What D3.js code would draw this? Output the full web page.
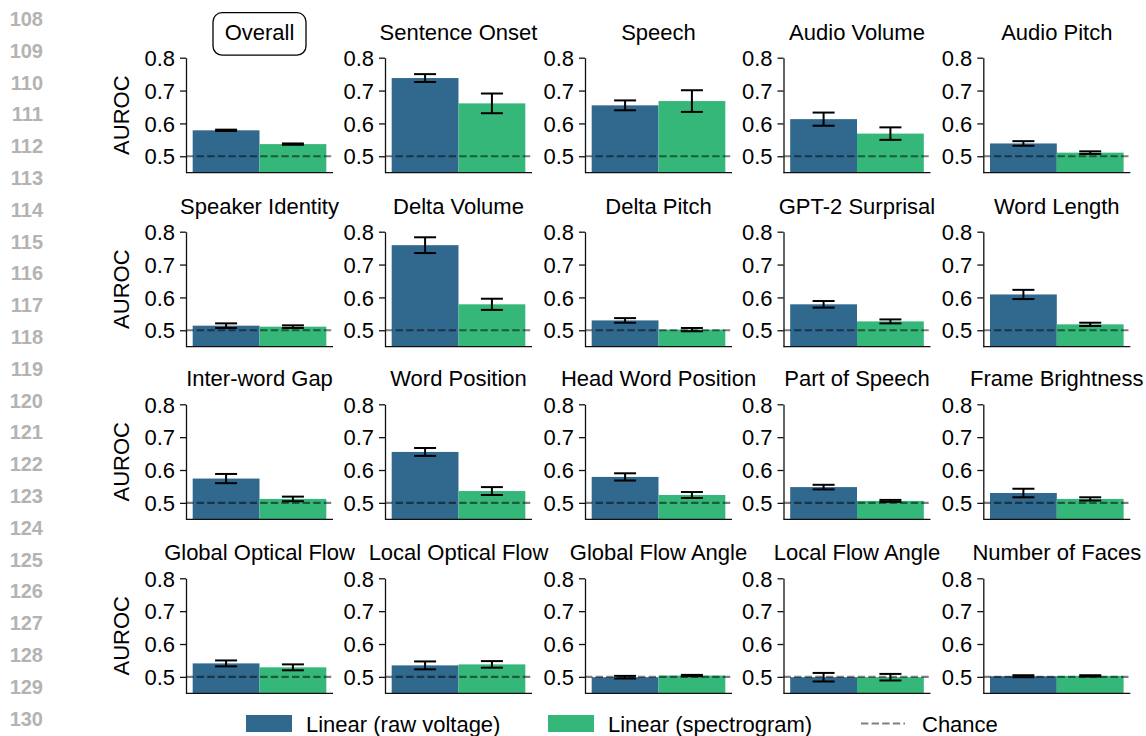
<!DOCTYPE html>
<html>
<head>
<meta charset="utf-8">
<script src="https://cdn.jsdelivr.net/npm/d3@7"></script>
<style>
  html, body { margin: 0; padding: 0; background: #fff; }
  svg { display: block; font-family: "Liberation Sans", Arial, Helvetica, sans-serif; }
</style>
</head>
<body>
<svg id="chart" width="1146" height="736"></svg>
<script>
// ---- data ----
const features = [
  "Overall", "Sentence Onset", "Speech", "Audio Volume", "Audio Pitch",
  "Speaker Identity", "Delta Volume", "Delta Pitch", "GPT-2 Surprisal", "Word Length",
  "Inter-word Gap", "Word Position", "Head Word Position", "Part of Speech", "Frame Brightness",
  "Global Optical Flow", "Local Optical Flow", "Global Flow Angle", "Local Flow Angle", "Number of Faces"
];
const seriesNames = ["Linear (raw voltage)", "Linear (spectrogram)"];
const rawMean = [0.579, 0.738, 0.655, 0.613, 0.539,
                 0.514, 0.759, 0.530, 0.579, 0.609,
                 0.574, 0.655, 0.579, 0.548, 0.530,
                 0.541, 0.535, 0.499, 0.499, 0.502];
const rawErr  = [0.002, 0.012, 0.015, 0.020, 0.007,
                 0.007, 0.024, 0.007, 0.010, 0.014,
                 0.014, 0.012, 0.011, 0.007, 0.013,
                 0.009, 0.012, 0.004, 0.013, 0.003];
const specMean = [0.537, 0.661, 0.668, 0.569, 0.511,
                  0.511, 0.579, 0.502, 0.527, 0.518,
                  0.512, 0.536, 0.524, 0.506, 0.512,
                  0.529, 0.538, 0.504, 0.499, 0.503];
const specErr  = [0.002, 0.030, 0.033, 0.019, 0.004,
                  0.004, 0.017, 0.005, 0.006, 0.005,
                  0.007, 0.012, 0.009, 0.003, 0.005,
                  0.009, 0.010, 0.002, 0.010, 0.002];
const yTicks = [0.5, 0.6, 0.7, 0.8];
const yDomain = [0.45, 0.8];
const chance = 0.5;
const lineNumbers = d3.range(108, 131);

// ---- style / layout ----
const colors = ["#31688e", "#35b779"];
const FS = 22;
const nCols = 5;
const colX = [186, 385, 585, 783.5, 983.3];
const rowTop = [57.7, 231.7, 404.3, 578.3];
const pw = 147, ph = 115;

const svg = d3.select("#chart");

// line numbers
svg.append("g").selectAll("text").data(lineNumbers).join("text")
  .attr("x", 43)
  .attr("y", (d, i) => 26 + i * 31.8)
  .attr("text-anchor", "end")
  .attr("font-weight", "bold")
  .attr("font-size", 20)
  .attr("fill", "#b3b3b3")
  .text(d => d);

features.forEach((name, idx) => {
  const r = Math.floor(idx / nCols), c = idx % nCols;
  const x0 = colX[c], y0 = rowTop[r];
  const g = svg.append("g");

  const x = d3.scaleBand().domain([0, 1]).range([x0, x0 + pw]).paddingInner(0).paddingOuter(0.1);
  const y = d3.scaleLinear().domain(yDomain).range([y0 + ph, y0]);

  const means = [rawMean[idx], specMean[idx]];
  const errs = [rawErr[idx], specErr[idx]];

  // bars
  g.selectAll("rect.bar").data([0, 1]).join("rect")
    .attr("class", "bar")
    .attr("x", d => x(d))
    .attr("width", x.bandwidth())
    .attr("y", d => y(means[d]))
    .attr("height", d => y(yDomain[0]) - y(means[d]))
    .attr("fill", d => colors[d]);

  // chance line
  g.append("line")
    .attr("x1", x0).attr("x2", x0 + pw)
    .attr("y1", y(chance)).attr("y2", y(chance))
    .attr("stroke", "#000").attr("stroke-opacity", 0.5)
    .attr("stroke-width", 2.2)
    .attr("stroke-dasharray", "7.4,3.2");

  // error bars
  const cap = 11;
  [0, 1].forEach(d => {
    const cx = x(d) + x.bandwidth() / 2;
    const lo = y(means[d] - errs[d]), hi = y(means[d] + errs[d]);
    const eg = g.append("g").attr("stroke", "#000").attr("stroke-width", 2).attr("fill", "none");
    eg.append("line").attr("x1", cx).attr("x2", cx).attr("y1", lo).attr("y2", hi);
    eg.append("line").attr("x1", cx - cap).attr("x2", cx + cap).attr("y1", lo).attr("y2", lo);
    eg.append("line").attr("x1", cx - cap).attr("x2", cx + cap).attr("y1", hi).attr("y2", hi);
  });

  // y axis
  const ax = g.append("g")
    .attr("transform", `translate(${x0},0)`)
    .call(d3.axisLeft(y).tickValues(yTicks).tickFormat(d3.format(".1f")).tickSize(6).tickPadding(5).tickSizeOuter(0));
  ax.select(".domain").attr("stroke", "#111").attr("stroke-width", 1.3);
  ax.selectAll(".tick line").attr("stroke", "#111").attr("stroke-width", 1.3);
  ax.selectAll(".tick text")
    .attr("font-size", FS)
    .attr("font-family", "Liberation Sans, Arial, sans-serif")
    .attr("fill", "#000")
    .attr("dy", "0.35em");

  // bottom spine
  g.append("line")
    .attr("x1", x0).attr("x2", x0 + pw)
    .attr("y1", y0 + ph).attr("y2", y0 + ph)
    .attr("stroke", "#111").attr("stroke-width", 1.3);

  // title
  const cx = x0 + pw / 2;
  if (idx === 0) {
    g.append("rect")
      .attr("x", cx - 46.5).attr("y", y0 - 45)
      .attr("width", 93).attr("height", 42.5)
      .attr("rx", 9).attr("ry", 9)
      .attr("fill", "#fff").attr("stroke", "#000").attr("stroke-width", 1.3);
  }
  g.append("text")
    .attr("x", cx)
    .attr("y", y0 - 18)
    .attr("text-anchor", "middle")
    .attr("font-size", FS)
    .attr("fill", "#000")
    .text(name);

  // y label
  if (c === 0) {
    g.append("text")
      .attr("transform", `translate(${x0 - 57},${y0 + ph / 2}) rotate(-90)`)
      .attr("text-anchor", "middle")
      .attr("font-size", FS)
      .attr("fill", "#000")
      .text("AUROC");
  }
});

// legend
const lg = svg.append("g");
const legX = [246, 548];
seriesNames.forEach((s, i) => {
  lg.append("rect").attr("x", legX[i]).attr("y", 715).attr("width", 46).attr("height", 17).attr("fill", colors[i]);
  lg.append("text").attr("x", legX[i] + 60).attr("y", 731.5).attr("font-size", FS).attr("fill", "#000").text(s);
});
lg.append("line")
  .attr("x1", 861).attr("x2", 905).attr("y1", 723.5).attr("y2", 723.5)
  .attr("stroke", "#000").attr("stroke-opacity", 0.5)
  .attr("stroke-width", 2.2).attr("stroke-dasharray", "7.4,3.2");
lg.append("text").attr("x", 922).attr("y", 731.5).attr("font-size", FS).attr("fill", "#000").text("Chance");
</script>
</body>
</html>
